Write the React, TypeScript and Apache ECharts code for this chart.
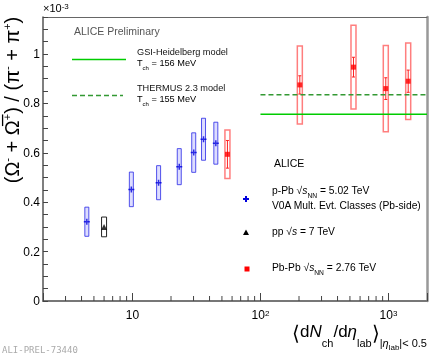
import React, { useEffect, useRef } from 'react';
import * as echarts from 'echarts';

const pPbX = [4.4, 9.8, 16.0, 23.2, 30.1, 35.9, 44.8];
const pPbY = [0.321, 0.452, 0.479, 0.544, 0.601, 0.655, 0.639];
const pPbSys = [0.059, 0.07, 0.069, 0.073, 0.08, 0.085, 0.085];
const ppX = [6.0];
const ppY = [0.3];
const ppSys = [0.04];
const pbpbX = [55.2, 203, 533, 953, 1426];
const pbpbY = [0.594, 0.875, 0.947, 0.86, 0.89];
const pbpbSys = [0.098, 0.158, 0.17, 0.175, 0.155];
const pbpbStat = [0.056, 0.037, 0.04, 0.044, 0.045];
const modelX = [100, 2000];
const gsiY = 0.756;
const thermusY = 0.835;
const xMinorTicks = [3, 4, 5, 6, 7, 8, 9, 20, 30, 40, 50, 60, 70, 80, 90, 200, 300, 400, 500, 600, 700, 800, 900];
const yLabelValues = [0, 0.2, 0.4, 0.6, 0.8, 1];

const FONT = '"Liberation Sans", Arial, Helvetica, sans-serif';
const CROSS = 'path://M3,0H5V3H8V5H5V8H3V5H0V3H3Z';

function boxSeries(xs: number[], ys: number[], errs: number[], w: number, style: any, z = 2) {
  return {
    type: 'custom',
    silent: true,
    z,
    data: xs.map((x, i) => [x, ys[i], errs[i]]),
    encode: { x: 0, y: 1 },
    renderItem: (params: any, api: any) => {
      const x = api.value(0), y = api.value(1), e = api.value(2);
      const t = api.coord([x, y + e]);
      const b = api.coord([x, y - e]);
      return {
        type: 'rect',
        shape: { x: t[0] - w / 2, y: t[1], width: w, height: b[1] - t[1] },
        style,
      };
    },
  };
}

const LF = 10.3; // right legend font
const MF = 9.2; // model legend font

function legRich(size: number, lh: number) {
  return {
    t: { fontSize: size, lineHeight: lh, verticalAlign: 'top', fontFamily: FONT, fill: '#000' },
    i: { fontSize: size, lineHeight: lh, verticalAlign: 'top', fontStyle: 'italic', fontFamily: FONT, fill: '#000' },
    s: { fontSize: size * 0.65, lineHeight: size * 0.65, verticalAlign: 'top', padding: [lh * 0.62, 0, 0, 0], fontFamily: FONT, fill: '#000' },
  };
}

export default function App() {
  const ref = useRef<HTMLDivElement>(null);
  useEffect(() => {
    if (!ref.current) return;
    const chart = echarts.init(ref.current, undefined, { renderer: 'svg' });

    const supRich = {
      b: { fontSize: 12, lineHeight: 16, verticalAlign: 'top', fontFamily: FONT, color: '#000' },
      s: { fontSize: 8, lineHeight: 8, verticalAlign: 'top', fontFamily: FONT, color: '#000' },
    };

    const option: any = {
      animation: false,
      grid: { left: 43, top: 17, right: 9, bottom: 53, containLabel: false },
      xAxis: [
        {
          type: 'log',
          logBase: 10,
          min: 2,
          max: 2000,
          axisLine: { show: true, lineStyle: { color: '#777', width: 2 } },
          axisTick: { show: true, inside: true, length: 8, lineStyle: { color: '#444', width: 1 } },
          splitLine: { show: false },
          axisLabel: {
            margin: 8,
            formatter: (v: number) => {
              const l = Math.log10(v);
              const n = Math.round(l);
              if (Math.abs(l - n) > 1e-6 || n < 1) return '';
              if (n === 1) return '{b|10}';
              return '{b|10}{s|' + n + '}';
            },
            rich: supRich,
          },
        },
        {
          type: 'value',
          position: 'top',
          min: 0,
          max: 1,
          axisLine: { show: true, onZero: false, lineStyle: { color: '#666', width: 1 } },
          axisTick: { show: false },
          axisLabel: { show: false },
          splitLine: { show: false },
        },
      ],
      yAxis: [
        {
          type: 'value',
          min: 0,
          max: 1.15,
          interval: 0.05,
          axisLine: { show: true, lineStyle: { color: '#555', width: 1.5 } },
          axisTick: { show: true, inside: true, length: 5, lineStyle: { color: '#444', width: 1 } },
          splitLine: { show: false },
          axisLabel: {
            margin: 3,
            fontSize: 12,
            fontFamily: FONT,
            color: '#000',
            formatter: (v: number) => {
              const hit = yLabelValues.find((l) => Math.abs(l - v) < 1e-6);
              return hit === undefined ? '' : String(hit);
            },
          },
        },
        {
          type: 'value',
          position: 'right',
          min: 0,
          max: 1,
          axisLine: { show: true, onZero: false, lineStyle: { color: '#999', width: 2.5 } },
          axisTick: { show: false },
          axisLabel: { show: false },
          splitLine: { show: false },
        },
      ],
      series: [
        {
          type: 'custom',
          silent: true,
          data: xMinorTicks.map((v) => [v, 0]),
          encode: { x: 0, y: 1 },
          renderItem: (params: any, api: any) => {
            const p = api.coord([api.value(0), 0]);
            return {
              type: 'line',
              shape: { x1: p[0], y1: p[1], x2: p[0], y2: p[1] - 5 },
              style: { stroke: '#444', lineWidth: 1 },
            };
          },
        },
        {
          type: 'line',
          data: modelX.map((x) => [x, gsiY]),
          symbol: 'none',
          lineStyle: { color: '#00cc00', width: 1.5 },
          silent: true,
        },
        {
          type: 'line',
          data: modelX.map((x) => [x, thermusY]),
          symbol: 'none',
          lineStyle: { color: '#339933', width: 1.5, type: [5, 3] },
          silent: true,
        },
        boxSeries(pPbX, pPbY, pPbSys, 4, { fill: 'rgba(120,120,255,0.25)', stroke: 'rgba(40,40,230,0.8)', lineWidth: 1 }),
        boxSeries(ppX, ppY, ppSys, 5, { fill: 'none', stroke: '#222', lineWidth: 1 }),
        boxSeries(pbpbX, pbpbY, pbpbSys, 5, { fill: 'none', stroke: 'rgba(255,40,40,0.6)', lineWidth: 1.5 }),
        {
          type: 'custom',
          silent: true,
          z: 3,
          data: pbpbX.map((x, i) => [x, pbpbY[i], pbpbStat[i]]),
          encode: { x: 0, y: 1 },
          renderItem: (params: any, api: any) => {
            const x = api.value(0), y = api.value(1), e = api.value(2);
            const t = api.coord([x, y + e]);
            const b = api.coord([x, y - e]);
            const st = { stroke: '#ff2020', lineWidth: 1 };
            return {
              type: 'group',
              children: [
                { type: 'line', shape: { x1: t[0], y1: t[1], x2: b[0], y2: b[1] }, style: st },
                { type: 'line', shape: { x1: t[0] - 1.5, y1: t[1], x2: t[0] + 1.5, y2: t[1] }, style: st },
                { type: 'line', shape: { x1: b[0] - 1.5, y1: b[1], x2: b[0] + 1.5, y2: b[1] }, style: st },
              ],
            };
          },
        },
        {
          type: 'scatter',
          data: pPbX.map((x, i) => [x, pPbY[i]]),
          symbol: CROSS,
          symbolSize: 6,
          itemStyle: { color: '#0000dd' },
          z: 5,
        },
        {
          type: 'scatter',
          data: ppX.map((x, i) => [x, ppY[i]]),
          symbol: 'triangle',
          symbolSize: 6,
          itemStyle: { color: '#000' },
          z: 5,
        },
        {
          type: 'scatter',
          data: pbpbX.map((x, i) => [x, pbpbY[i]]),
          symbol: 'rect',
          symbolSize: 5,
          itemStyle: { color: '#ff0000' },
          z: 5,
        },
      ],
      graphic: [
        {
          type: 'text',
          left: 43,
          top: 2,
          style: {
            rich: {
              t: { fontSize: 11, lineHeight: 14, verticalAlign: 'top', fontFamily: FONT, fill: '#000' },
              s: { fontSize: 8, lineHeight: 8, verticalAlign: 'top', fontFamily: FONT, fill: '#000' },
            },
            text: '{t|×10}{s|-3}',
          },
        },
        {
          type: 'text',
          x: 13,
          y: 100,
          rotation: Math.PI / 2,
          style: {
            align: 'center',
            verticalAlign: 'middle',
            rich: {
              m: { fontSize: 20, lineHeight: 23, verticalAlign: 'top', fontFamily: FONT, fill: '#000' },
              s: { fontSize: 11, lineHeight: 11, verticalAlign: 'top', fontFamily: FONT, fill: '#000' },
            },
            text: '{m|(Ω}{s|-}{m| + Ω\u0305}{s|+}{m|) / (π}{s|-}{m| + π}{s|+}{m|)}',
          },
        },
        {
          type: 'text',
          x: 427,
          y: 323,
          style: {
            align: 'right',
            verticalAlign: 'top',
            rich: {
              m: { fontSize: 17, lineHeight: 20, verticalAlign: 'top', fontFamily: FONT, fill: '#000' },
              i: { fontSize: 17, lineHeight: 20, verticalAlign: 'top', fontStyle: 'italic', fontFamily: FONT, fill: '#000' },
              a: { fontSize: 20, lineHeight: 22, verticalAlign: 'top', fontFamily: FONT, fill: '#000' },
              s: { fontSize: 11, lineHeight: 11, verticalAlign: 'top', padding: [14, 0, 0, 0], fontFamily: FONT, fill: '#000' },
              si: { fontSize: 11, lineHeight: 11, verticalAlign: 'top', padding: [14, 0, 0, 0], fontStyle: 'italic', fontFamily: FONT, fill: '#000' },
              ss: { fontSize: 8, lineHeight: 8, verticalAlign: 'top', padding: [20, 0, 0, 0], fontFamily: FONT, fill: '#000' },
            },
            text: '{a|⟨}{m|d}{i|N}{s|ch}{m|/d}{i|η}{s|lab}{a|⟩}{s||}{si|η}{ss|lab}{s||< 0.5}',
          },
        },
        {
          type: 'text',
          left: 2,
          top: 345,
          style: { text: 'ALI-PREL-73440', fontSize: 9, fontFamily: '"DejaVu Sans Mono", monospace', fill: '#aaa' },
        },
        {
          type: 'text',
          left: 74,
          top: 25,
          style: { text: 'ALICE Preliminary', fontSize: 10.5, fontFamily: FONT, fill: '#555' },
        },
        { type: 'line', shape: { x1: 72, y1: 59.5, x2: 126, y2: 59.5 }, style: { stroke: '#00cc00', lineWidth: 1.5 } },
        { type: 'line', shape: { x1: 72, y1: 95.5, x2: 123, y2: 95.5 }, style: { stroke: '#339933', lineWidth: 1.5, lineDash: [5, 3] } },
        {
          type: 'text',
          left: 137,
          top: 47,
          style: { text: 'GSI-Heidelberg model', fontSize: MF, fontFamily: FONT, fill: '#111' },
        },
        {
          type: 'text',
          left: 137,
          top: 58,
          style: { rich: legRich(MF, 11), text: '{t|T}{s|ch}{t| = 156 MeV}' },
        },
        {
          type: 'text',
          left: 137,
          top: 83,
          style: { text: 'THERMUS 2.3 model', fontSize: MF, fontFamily: FONT, fill: '#111' },
        },
        {
          type: 'text',
          left: 137,
          top: 94,
          style: { rich: legRich(MF, 11), text: '{t|T}{s|ch}{t| = 155 MeV}' },
        },
        {
          type: 'text',
          left: 274,
          top: 157,
          style: { text: 'ALICE', fontSize: 10.5, fontFamily: FONT, fill: '#000' },
        },
        {
          type: 'text',
          left: 272,
          top: 185,
          style: { rich: legRich(LF, 12), text: '{t|p-Pb √}{i|s}{s|NN}{t| = 5.02 TeV}' },
        },
        {
          type: 'text',
          left: 272,
          top: 200,
          style: { text: 'V0A Mult. Evt. Classes (Pb-side)', fontSize: LF, fontFamily: FONT, fill: '#000' },
        },
        {
          type: 'text',
          left: 272,
          top: 226,
          style: { rich: legRich(LF, 12), text: '{t|pp √}{i|s}{t| = 7 TeV}' },
        },
        {
          type: 'text',
          left: 272,
          top: 262,
          style: { rich: legRich(LF, 12), text: '{t|Pb-Pb √}{i|s}{s|NN}{t| = 2.76 TeV}' },
        },
        { type: 'rect', shape: { x: 245, y: 196, width: 2, height: 6 }, style: { fill: '#0000dd' } },
        { type: 'rect', shape: { x: 243, y: 198, width: 6, height: 2 }, style: { fill: '#0000dd' } },
        { type: 'polygon', shape: { points: [[246, 229.5], [249, 235], [243, 235]] }, style: { fill: '#000' } },
        { type: 'rect', shape: { x: 244.5, y: 266.5, width: 5, height: 5 }, style: { fill: '#ff0000' } },
      ],
    };
    chart.setOption(option);
    return () => chart.dispose();
  }, []);
  return <div ref={ref} style={{ position: 'fixed', left: 0, top: 0, width: 436, height: 354 }} />;
}
